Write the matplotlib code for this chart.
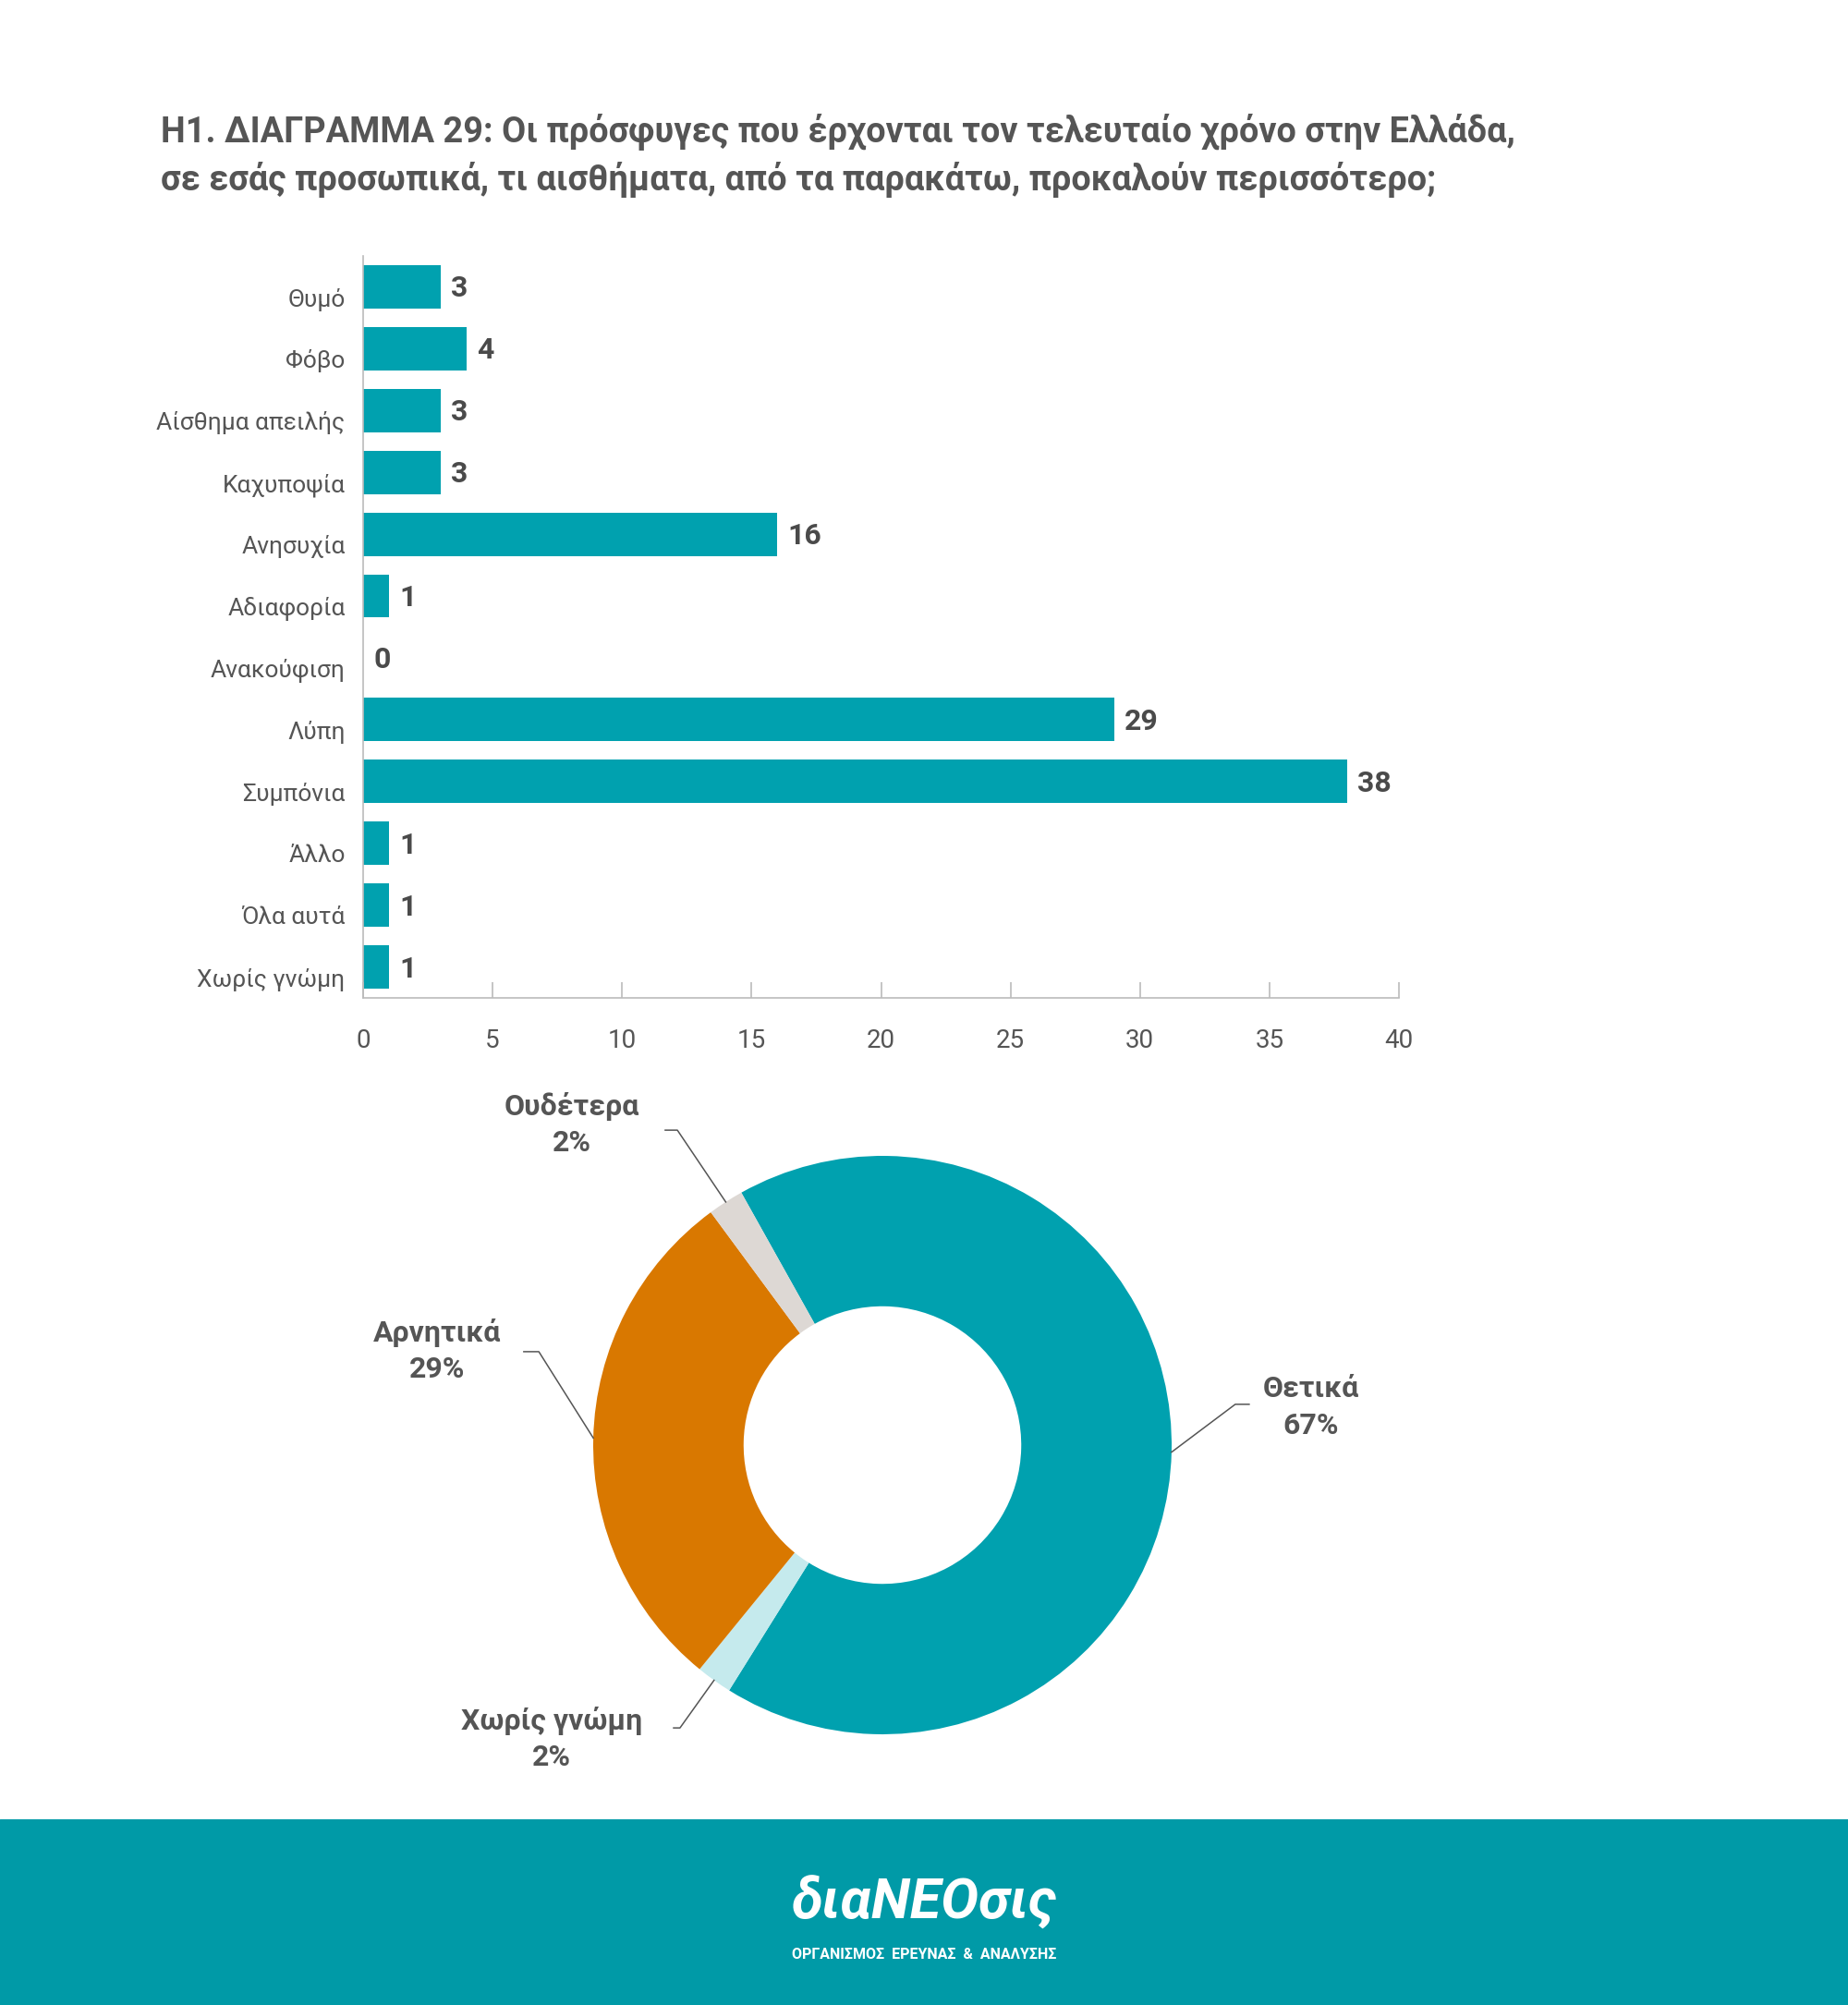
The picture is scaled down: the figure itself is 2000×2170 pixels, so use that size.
import matplotlib
matplotlib.use("Agg")
import matplotlib.pyplot as plt
from matplotlib.transforms import ScaledTranslation
import numpy as np

plt.rcParams['font.family'] = ['Roboto', 'DejaVu Sans']

# Data
categories = ['Θυμό', 'Φόβο', 'Αίσθημα απειλής', 'Καχυποψία', 'Ανησυχία', 'Αδιαφορία',
              'Ανακούφιση', 'Λύπη', 'Συμπόνια', 'Άλλο', 'Όλα αυτά', 'Χωρίς γνώμη']
values = [3, 4, 3, 3, 16, 1, 0, 29, 38, 1, 1, 1]
x_ticks = [0, 5, 10, 15, 20, 25, 30, 35, 40]

pie_labels = ['Θετικά', 'Χωρίς γνώμη', 'Αρνητικά', 'Ουδέτερα']
pie_values = [67, 2, 29, 2]

title = ('H1. ΔΙΑΓΡΑΜΜΑ 29: Οι πρόσφυγες που έρχονται τον τελευταίο χρόνο στην Ελλάδα,\n'
         'σε εσάς προσωπικά, τι αισθήματα, από τα παρακάτω, προκαλούν περισσότερο;')

teal = '#00a1af'
pie_colors = [teal, '#c5eaed', '#d97800', '#ddd8d4']
text_col = '#555555'

W, H = 2000, 2170
fig = plt.figure(figsize=(W / 100, H / 100), dpi=100)
fig.patch.set_facecolor('white')

# title
fig.text(174 / W, 1 - 122 / H, title, ha='left', va='top', fontsize=27.3, fontweight='bold',
         color=text_col, linespacing=1.42)

# bar chart
ax = fig.add_axes([393 / W, 1 - 1080 / H, (1514 - 393) / W, (1080 - 277) / H])
y = np.arange(len(categories))
ax.barh(y, values, height=0.7, color=teal)
ax.set_ylim(len(categories) - 0.5, -0.5)
ax.set_xlim(0, 40)
ax.set_yticks(y)
ax.set_yticklabels(categories, fontsize=19, color=text_col)
ax.tick_params(axis='y', length=0, pad=14)
shift = ScaledTranslation(0, -8 / 72, fig.dpi_scale_trans)
for lbl in ax.get_yticklabels():
    lbl.set_transform(lbl.get_transform() + shift)
ax.set_xticks(x_ticks)
ax.set_xticklabels([str(t) for t in x_ticks], fontsize=20, color=text_col)
ax.tick_params(axis='x', direction='in', length=12, width=1.2, color='#bbbbbb', pad=24)
for s in ['top', 'right']:
    ax.spines[s].set_visible(False)
for s in ['left', 'bottom']:
    ax.spines[s].set_color('#bbbbbb')
    ax.spines[s].set_linewidth(1.2)
for yi, v in zip(y, values):
    ax.text(v + 0.4, yi + 0.03, str(v), va='center', ha='left', fontsize=23,
            fontweight='bold', color='#4a4a4a')

# donut
R = 313
cx, cy = 955, 1564
pax = fig.add_axes([0, (H - cy - 400) / H, 1, 800 / H])
wedges, _ = pax.pie(pie_values, colors=pie_colors, startangle=119.2, counterclock=False,
                    wedgeprops=dict(width=0.52, linewidth=0))
pax.set_xlim(-cx / R, (W - cx) / R)
pax.set_ylim(-400 / R, 400 / R)
pax.set_aspect('equal', adjustable='box')
pax.axis('off')

# label layout: text centre, knee start, knee end
label_pos = {
    'Θετικά': ((1.482, 0.131), (1.268, 0.141), (1.220, 0.141)),
    'Χωρίς γνώμη': ((-1.144, -1.016), (-0.722, -0.978), (-0.700, -0.978)),
    'Αρνητικά': ((-1.540, 0.326), (-1.240, 0.323), (-1.188, 0.323)),
    'Ουδέτερα': ((-1.073, 1.109), (-0.751, 1.089), (-0.709, 1.089)),
}
for w, lab, v in zip(wedges, pie_labels, pie_values):
    ang = np.deg2rad((w.theta1 + w.theta2) / 2)
    ex, ey = np.cos(ang), np.sin(ang)
    (tx, ty), (k1x, k1y), (k2x, k2y) = label_pos[lab]
    pax.plot([k1x, k2x, ex], [k1y, k2y, ey], color='#555555', lw=1.1)
    pax.text(tx, ty, f'{lab}\n{v}%', ha='center', va='center', fontsize=23,
             fontweight='bold', color=text_col, linespacing=1.4)

# footer
fax = fig.add_axes([0, 0, 1, (H - 1969) / H])
fax.set_xlim(0, 1)
fax.set_ylim(0, 1)
fax.axis('off')
fax.add_patch(plt.Rectangle((0, 0), 1, 1, color='#009aa7'))
fax.text(0.5, 0.55, 'διαNEOσις', ha='center', va='center', fontsize=44,
         fontweight='bold', fontstyle='italic', color='white')
fax.text(0.5, 0.27, 'ΟΡΓΑΝΙΣΜΟΣ  ΕΡΕΥΝΑΣ  &  ΑΝΑΛΥΣΗΣ', ha='center',
         va='center', fontsize=11.5, fontweight='bold', color='white')

fig.savefig('out.png', dpi=100, facecolor='white')
